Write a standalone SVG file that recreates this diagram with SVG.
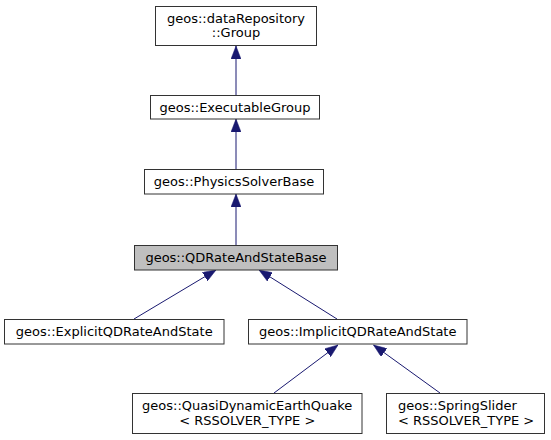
<svg xmlns="http://www.w3.org/2000/svg" width="551" height="440" viewBox="0 0 551 440">
<style>
.n rect{fill:#ffffff;stroke:#333333;stroke-width:1}
.n.f rect{fill:#bfbfbf}
text{font-family:"DejaVu Sans",sans-serif;font-size:13px;fill:#000000}
.c{text-anchor:middle}
.e line{stroke:#191970;stroke-width:1;fill:none;marker-end:url(#ah)}
</style>
<defs>
<marker id="ah" markerUnits="userSpaceOnUse" markerWidth="13" markerHeight="10" viewBox="0 0 13 10" refX="13" refY="5" orient="auto">
<path d="M0,0 L13,5 L0,10 Z" fill="#191970" stroke="#191970" stroke-width="0.5"/>
</marker>
</defs>
<rect width="551" height="440" fill="#ffffff"/>
<g id="edges" class="e">
<line x1="236" y1="95" x2="236" y2="46"/>
<line x1="236" y1="169" x2="236" y2="119"/>
<line x1="236" y1="245" x2="236" y2="194"/>
<line x1="134" y1="319" x2="216" y2="270"/>
<line x1="337" y1="319" x2="259" y2="270"/>
<line x1="274" y1="393" x2="338" y2="345"/>
<line x1="440" y1="393" x2="373.5" y2="345"/>
</g>
<g id="node_group" class="n">
<rect x="155.5" y="6.5" width="161" height="39"/>
<text class="c" x="236" y="22.5">geos::dataRepository</text>
<text class="c" x="236" y="37">::Group</text>
</g>
<g id="node_executable" class="n">
<rect x="150.5" y="95.5" width="169" height="23.5"/>
<text class="c" x="235" y="112">geos::ExecutableGroup</text>
</g>
<g id="node_physics" class="n">
<rect x="144.5" y="169.5" width="179" height="24.5"/>
<text class="c" x="234" y="186">geos::PhysicsSolverBase</text>
</g>
<g id="node_qdbase" class="n f">
<rect x="134.5" y="245.5" width="203" height="24.5"/>
<text class="c" x="236" y="262">geos::QDRateAndStateBase</text>
</g>
<g id="node_explicit" class="n">
<rect x="4.5" y="319.5" width="219.5" height="24.5"/>
<text class="c" x="114.25" y="336">geos::ExplicitQDRateAndState</text>
</g>
<g id="node_implicit" class="n">
<rect x="248.5" y="319.5" width="218.5" height="24.5"/>
<text class="c" x="357.75" y="336">geos::ImplicitQDRateAndState</text>
</g>
<g id="node_quasi" class="n">
<rect x="132.5" y="393.5" width="229.5" height="40"/>
<text class="c" x="247.25" y="409.5">geos::QuasiDynamicEarthQuake</text>
<text class="c" x="247.25" y="424.5">&lt; RSSOLVER_TYPE &gt;</text>
</g>
<g id="node_spring" class="n">
<rect x="386.5" y="393.5" width="158" height="40"/>
<text x="398" y="409.5">geos::SpringSlider</text>
<text x="398" y="424.5">&lt; RSSOLVER_TYPE &gt;</text>
</g>
</svg>
